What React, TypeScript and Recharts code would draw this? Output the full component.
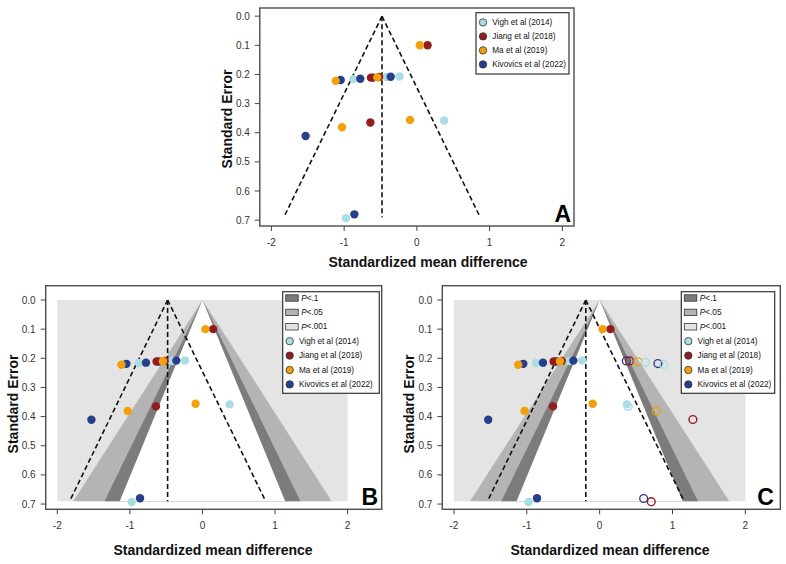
import React from 'react';
import { ScatterChart, Scatter, XAxis, YAxis, ReferenceArea, ReferenceLine } from 'recharts';

const FONT = '"Liberation Sans", Arial, Helvetica, sans-serif';

// ---- tick labels ----
const xTicks = [-2, -1, 0, 1, 2];
const yTicks = [0, 0.1, 0.2, 0.3, 0.4, 0.5, 0.6, 0.7];

// ---- series ----
const seriesNames = ['Vigh et al (2014)', 'Jiang et al (2018)', 'Ma et al (2019)', 'Kivovics et al (2022)'];
const seriesColors = ['#a9dde2', '#941c1f', '#f4a00c', '#263f8c'];

// observed studies (standardized mean difference, standard error)
const vigh = [
  { smd: -0.875, se: 0.216 },
  { smd: -0.42, se: 0.209 },
  { smd: -0.24, se: 0.207 },
  { smd: 0.375, se: 0.358 },
  { smd: -0.975, se: 0.693 },
];
const jiang = [
  { smd: 0.147, se: 0.1 },
  { smd: -0.52, se: 0.209 },
  { smd: -0.632, se: 0.211 },
  { smd: -0.64, se: 0.365 },
];
const ma = [
  { smd: 0.04, se: 0.1 },
  { smd: -1.117, se: 0.222 },
  { smd: -0.545, se: 0.21 },
  { smd: -0.095, se: 0.356 },
  { smd: -1.03, se: 0.381 },
];
const kivovics = [
  { smd: -1.048, se: 0.219 },
  { smd: -0.778, se: 0.215 },
  { smd: -0.6, se: 0.211 },
  { smd: -0.36, se: 0.208 },
  { smd: -1.53, se: 0.411 },
  { smd: -0.86, se: 0.68 },
];

// imputed studies (trim-and-fill, panel C)
const vighImputed = [
  { smd: 0.627, se: 0.214 },
  { smd: 0.879, se: 0.221 },
  { smd: 0.39, se: 0.365 },
];
const jiangImputed = [
  { smd: 0.41, se: 0.209 },
  { smd: 1.28, se: 0.41 },
  { smd: 0.709, se: 0.692 },
];
const maImputed = [
  { smd: 0.526, se: 0.212 },
  { smd: 0.778, se: 0.381 },
];
const kivovicsImputed = [
  { smd: 0.366, se: 0.209 },
  { smd: 0.8, se: 0.218 },
  { smd: 0.604, se: 0.681 },
];

// ---- contour regions (half widths at the largest SE) ----
const contourLabels = ['P<.1', 'P<.05', 'P<.001'];
const contourColors = ['#7c7c7c', '#b4b4b4', '#e4e4e4'];
const contourMaxSE = 0.69;
const whiteHalf = 1.14;
const darkHalf = 1.35;
const mediumHalf = 1.78;
const backgroundHalf = 2.0;

// ---- funnel (pseudo-CI) lines ----
const funnelAB = { center: -0.48, left: -1.82, right: 0.86, seLines: 0.685, seVertical: 0.69 };
const funnelC = { center: -0.19, left: -1.53, right: 1.15, seLines: 0.685, seVertical: 0.69 };

const observed = [
  { data: vigh, idx: 0 },
  { data: kivovics, idx: 3 },
  { data: jiang, idx: 1 },
  { data: ma, idx: 2 },
];
const imputed = [
  { data: kivovicsImputed, idx: 3 },
  { data: jiangImputed, idx: 1 },
  { data: maImputed, idx: 2 },
  { data: vighImputed, idx: 0 },
];

const panels = [
  {
    key: 'A', left: 0, top: 0, width: 786, height: 280,
    margin: { top: 8, right: 212, bottom: 24, left: 219.8 },
    xDomain: [-2.16, 2.16], yDomain: [-0.028, 0.72],
    funnel: funnelAB, contours: false, imputed: false, letterInset: 3,
  },
  {
    key: 'B', left: 0, top: 280, width: 393, height: 284,
    margin: { top: 5.7, right: 11.3, bottom: 24.7, left: 5.7 },
    xDomain: [-2.16, 2.47], yDomain: [-0.049, 0.718],
    funnel: funnelAB, contours: true, imputed: false, letterInset: 3.5,
  },
  {
    key: 'C', left: 393, top: 280, width: 393, height: 284,
    margin: { top: 5.7, right: 5.7, bottom: 24.7, left: 9.3 },
    xDomain: [-2.16, 2.48], yDomain: [-0.049, 0.718],
    funnel: funnelC, contours: true, imputed: true, letterInset: 6.5,
  },
];

const triangleShape = (fill: string) => (p: any) => {
  const { x, y, width, height } = p;
  return (
    <polygon
      points={`${x + width / 2},${y} ${x},${y + height} ${x + width},${y + height}`}
      fill={fill}
      stroke="none"
    />
  );
};

const boxShape = (letter: string, inset: number) => (p: any) => {
  const { x, y, width, height } = p;
  return (
    <g>
      <rect x={x} y={y} width={width} height={height} fill="none" stroke="#4d4d4d" strokeWidth={1.4} />
      <text
        x={x + width - inset}
        y={y + height - 4}
        textAnchor="end"
        fontFamily={FONT}
        fontWeight="bold"
        fontSize={23}
        fill="#000"
      >
        {letter}
      </text>
    </g>
  );
};

const dotShape = (color: string, open: boolean) => (p: any) => {
  if (p.cx == null || p.cy == null) return <g />;
  return open ? (
    <circle cx={p.cx} cy={p.cy} r={3.9} fill="none" stroke={color} strokeWidth={1.4} />
  ) : (
    <circle cx={p.cx} cy={p.cy} r={4.2} fill={color} stroke="none" />
  );
};

const dashStyle = { stroke: '#111', strokeDasharray: '5 3', strokeWidth: 1.6 };

function FunnelPanel({ cfg }: { cfg: any }) {
  const f = cfg.funnel;
  const children: any[] = [];
  if (cfg.contours) {
    children.push(
      <ReferenceArea key="bg" x1={-backgroundHalf} x2={backgroundHalf} y1={0} y2={contourMaxSE}
        fill={contourColors[2]} fillOpacity={1} stroke="none" ifOverflow="visible" />,
      <ReferenceArea key="med" x1={-mediumHalf} x2={mediumHalf} y1={0} y2={contourMaxSE}
        shape={triangleShape(contourColors[1])} ifOverflow="visible" />,
      <ReferenceArea key="dark" x1={-darkHalf} x2={darkHalf} y1={0} y2={contourMaxSE}
        shape={triangleShape(contourColors[0])} ifOverflow="visible" />,
      <ReferenceArea key="white" x1={-whiteHalf} x2={whiteHalf} y1={0} y2={contourMaxSE}
        shape={triangleShape('#ffffff')} ifOverflow="visible" />
    );
  }
  children.push(
    <ReferenceLine key="fl" segment={[{ x: f.center, y: 0 }, { x: f.left, y: f.seLines }]} {...dashStyle} ifOverflow="visible" />,
    <ReferenceLine key="fr" segment={[{ x: f.center, y: 0 }, { x: f.right, y: f.seLines }]} {...dashStyle} ifOverflow="visible" />,
    <ReferenceLine key="fv" segment={[{ x: f.center, y: 0 }, { x: f.center, y: f.seVertical }]} {...dashStyle} ifOverflow="visible" />
  );
  if (cfg.imputed) {
    imputed.forEach((s) => {
      children.push(
        <Scatter key={'imp' + s.idx} name={seriesNames[s.idx] + ' (imputed)'} data={s.data}
          shape={dotShape(seriesColors[s.idx], true)} isAnimationActive={false} />
      );
    });
  }
  observed.forEach((s) => {
    children.push(
      <Scatter key={'obs' + s.idx} name={seriesNames[s.idx]} data={s.data}
        shape={dotShape(seriesColors[s.idx], false)} isAnimationActive={false} />
    );
  });
  children.push(
    <ReferenceArea key="box" x1={cfg.xDomain[0]} x2={cfg.xDomain[1]} y1={cfg.yDomain[0]} y2={cfg.yDomain[1]}
      shape={boxShape(cfg.key, cfg.letterInset)} ifOverflow="visible" />
  );

  return (
    <div style={{ position: 'absolute', left: cfg.left, top: cfg.top, width: cfg.width, height: cfg.height }}>
      <ScatterChart width={cfg.width} height={cfg.height} margin={cfg.margin}>
        <XAxis
          type="number"
          dataKey="smd"
          domain={cfg.xDomain}
          allowDataOverflow
          ticks={xTicks}
          interval={0}
          axisLine={false}
          tickLine={{ stroke: '#444' }}
          tickSize={5}
          tickMargin={8}
          height={30}
          tick={{ fill: '#333', fontSize: 10, fontFamily: FONT }}
        />
        <YAxis
          type="number"
          dataKey="se"
          domain={cfg.yDomain}
          allowDataOverflow
          reversed
          ticks={yTicks}
          interval={0}
          axisLine={false}
          tickLine={{ stroke: '#444' }}
          tickSize={5}
          tickMargin={5}
          width={40}
          tickFormatter={(v: number) => v.toFixed(1)}
          tick={{ fill: '#333', fontSize: 10, fontFamily: FONT }}
        />
        {children}
      </ScatterChart>
    </div>
  );
}

const legendA = { x: 476, y: 12.7, w: 93, h: 61.3, firstRow: 22.4, step: 14 };
const legendB = { x: 282.7, y: 291.7, w: 96.6, h: 101.6, firstRow: 298, step: 14.4 };
const legendC = { x: 681.3, y: 291.7, w: 93.4, h: 101.6, firstRow: 298, step: 14.4 };

function LegendBox({ lg, withContours }: { lg: any; withContours: boolean }) {
  const rows: any[] = [];
  let r = 0;
  if (withContours) {
    contourLabels.forEach((lab, i) => {
      const cy = lg.firstRow + r * lg.step;
      rows.push(
        <g key={'c' + i}>
          <rect x={lg.x + 3} y={cy - 3.2} width={12.5} height={6.4} fill={contourColors[i]} stroke="#333" strokeWidth={0.8} />
          <text x={lg.x + 18.5} y={cy} dominantBaseline="central" fontFamily={FONT} fontSize={8.2} fill="#111">
            <tspan fontStyle="italic">P</tspan>
            {lab.slice(1)}
          </text>
        </g>
      );
      r++;
    });
  }
  seriesNames.forEach((name, i) => {
    const cy = lg.firstRow + r * lg.step;
    rows.push(
      <g key={'s' + i}>
        <circle cx={lg.x + 7} cy={cy} r={3.7} fill={seriesColors[i]} stroke="#333" strokeWidth={0.8} />
        <text x={lg.x + 16.3} y={cy} dominantBaseline="central" fontFamily={FONT} fontSize={8.2} fill="#111">
          {name}
        </text>
      </g>
    );
    r++;
  });
  return (
    <g>
      <rect x={lg.x} y={lg.y} width={lg.w} height={lg.h} fill="#fff" stroke="#333" strokeWidth={1.2} />
      {rows}
    </g>
  );
}

const titleStyle = { fontFamily: FONT, fontWeight: 'bold' as const, fontSize: 14, fill: '#111' };

export default function App() {
  return (
    <div style={{ position: 'absolute', left: 0, top: 0, width: 786, height: 564, background: '#fff', overflow: 'hidden' }}>
      {panels.map((p) => (
        <FunnelPanel key={p.key} cfg={p} />
      ))}
      <svg width={786} height={564} style={{ position: 'absolute', left: 0, top: 0, pointerEvents: 'none' }}>
        <LegendBox lg={legendA} withContours={false} />
        <LegendBox lg={legendB} withContours={true} />
        <LegendBox lg={legendC} withContours={true} />
        <text transform="translate(227,119) rotate(-90)" textAnchor="middle" dominantBaseline="central" {...titleStyle}>Standard Error</text>
        <text x={428} y={262} textAnchor="middle" dominantBaseline="central" {...titleStyle}>Standardized mean difference</text>
        <text transform="translate(13,404) rotate(-90)" textAnchor="middle" dominantBaseline="central" {...titleStyle}>Standard Error</text>
        <text x={213} y={550} textAnchor="middle" dominantBaseline="central" {...titleStyle}>Standardized mean difference</text>
        <text transform="translate(409,404) rotate(-90)" textAnchor="middle" dominantBaseline="central" {...titleStyle}>Standard Error</text>
        <text x={610} y={550} textAnchor="middle" dominantBaseline="central" {...titleStyle}>Standardized mean difference</text>
      </svg>
    </div>
  );
}
